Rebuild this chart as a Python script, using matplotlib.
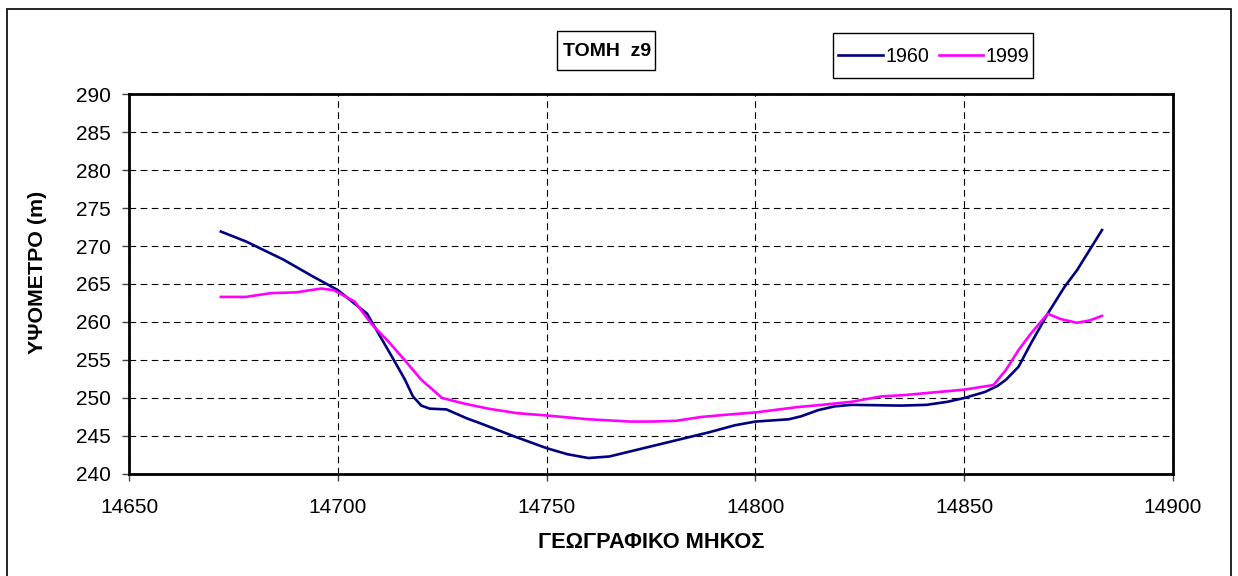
import matplotlib
matplotlib.use('Agg')
import matplotlib.pyplot as plt
from matplotlib.patches import Rectangle

plt.rcParams['font.family'] = ['Liberation Sans', 'DejaVu Sans']

# profile section z9, elevation vs longitude
x_1960 = [14672, 14678, 14687, 14694, 14700, 14707, 14713, 14716, 14718, 14720,
          14722, 14726, 14731, 14734, 14742, 14750, 14755, 14760, 14765, 14771,
          14777, 14783, 14789, 14795, 14800, 14808, 14811, 14815, 14819, 14823,
          14835, 14841, 14846, 14850, 14855, 14858, 14860, 14863, 14866, 14870,
          14874, 14877, 14883]
y_1960 = [271.9, 270.6, 268.2, 266.0, 264.2, 261.1, 255.4, 252.5, 250.2, 249.0,
          248.6, 248.5, 247.3, 246.7, 245.0, 243.4, 242.6, 242.1, 242.3, 243.1,
          243.9, 244.7, 245.5, 246.4, 246.9, 247.2, 247.6, 248.4, 248.9, 249.1,
          249.0, 249.1, 249.5, 250.0, 250.8, 251.6, 252.4, 254.1, 257.2, 261.1,
          264.6, 266.8, 272.1]

x_1999 = [14672, 14678, 14684, 14690, 14696, 14699, 14704, 14708, 14712, 14716,
          14720, 14725, 14730, 14736, 14743, 14750, 14760, 14770, 14775, 14781,
          14787, 14793, 14800, 14810, 14816, 14823, 14830, 14836, 14842, 14850,
          14857, 14860, 14863, 14866, 14870, 14873, 14877, 14880, 14883]
y_1999 = [263.3, 263.3, 263.8, 263.9, 264.4, 264.2, 262.7, 259.8, 257.5, 255.0,
          252.4, 250.0, 249.3, 248.6, 248.0, 247.7, 247.2, 246.9, 246.9, 247.0,
          247.5, 247.8, 248.1, 248.8, 249.1, 249.5, 250.2, 250.4, 250.7, 251.1,
          251.7, 253.7, 256.3, 258.5, 261.1, 260.4, 259.9, 260.2, 260.8]

x_ticks = [14650, 14700, 14750, 14800, 14850, 14900]
y_ticks = [240, 245, 250, 255, 260, 265, 270, 275, 280, 285, 290]

W, H = 1238, 576
fig = plt.figure(figsize=(W / 100, H / 100), dpi=100)
ax = fig.add_axes([129 / W, 1 - 474 / H, (1173 - 129) / W, (474 - 94) / H])

l1, = ax.plot(x_1960, y_1960, color='#000080', lw=1.9, label='1960')
l2, = ax.plot(x_1999, y_1999, color='#FF00FF', lw=1.9, label='1999')

ax.set_xlim(14650, 14900)
ax.set_ylim(240, 290)
ax.set_xticks(x_ticks)
ax.set_yticks(y_ticks)
ax.tick_params(axis='both', labelsize=15, direction='out', length=5, width=1, color='#444444')
ax.tick_params(axis='x', pad=12)
ax.tick_params(axis='y', pad=8)
ax.grid(True, color='black', linestyle=(0, (6, 4)), linewidth=0.8)
for s in ax.spines.values():
    s.set_linewidth(2)
    s.set_color('black')

fig.text(651 / W, 1 - 543 / H, 'ΓΕΩΓΡΑΦΙΚΟ ΜΗΚΟΣ', ha='center', va='center',
         fontsize=15.7, fontweight='bold')
fig.text(38 / W, 1 - 272 / H, 'ΥΨΟΜΕΤΡΟ (m)', ha='center', va='center',
         rotation=90, fontsize=15.4, fontweight='bold')

# title box
fig.patches.append(Rectangle((557 / W, 1 - 70 / H), 98 / W, 39 / H, transform=fig.transFigure,
                             fill=False, edgecolor='black', lw=1))
fig.text(651 / W, 1 - 51 / H, 'ΤΟΜΗ  z9', ha='right', va='center', fontsize=14,
         fontweight='bold')

# legend box
fig.patches.append(Rectangle((833 / W, 1 - 78 / H), 200 / W, 45 / H, transform=fig.transFigure,
                             fill=False, edgecolor='black', lw=1))
leg = fig.legend(handles=[l1, l2], loc='center', bbox_to_anchor=(934 / W, 1 - 56 / H),
                 ncol=2, fontsize=14.2, frameon=False, handlelength=2.25,
                 handletextpad=0.15, columnspacing=0.45, borderpad=0, borderaxespad=0)

# outer chart border
fig.patches.append(Rectangle((7 / W, -0.01), (1231 - 7) / W, 1.01 - 9 / H,
                             transform=fig.transFigure, fill=False, edgecolor='black', lw=1.2))

fig.savefig('out.png', dpi=100)
